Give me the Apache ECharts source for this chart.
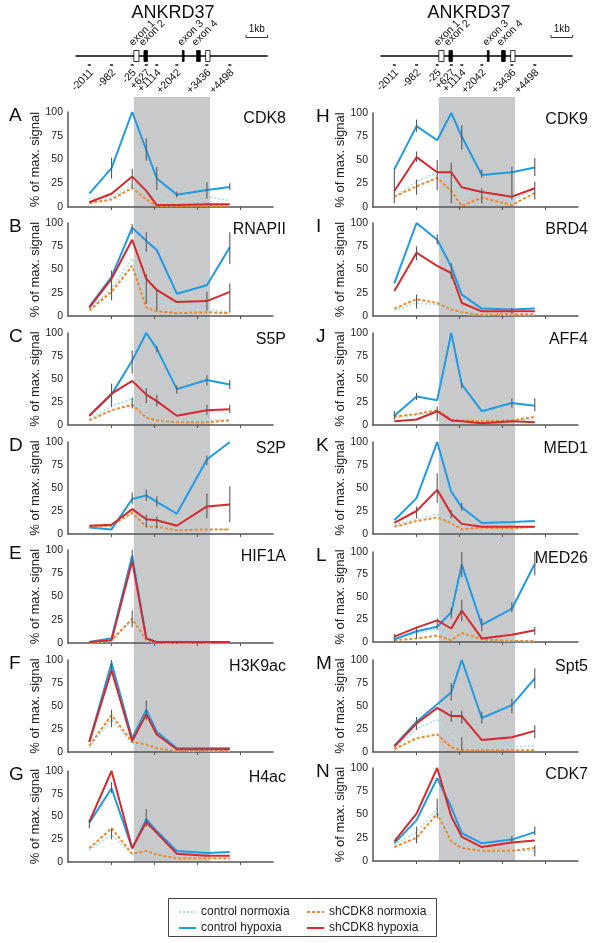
<!DOCTYPE html>
<html><head><meta charset="utf-8">
<script src="https://cdn.jsdelivr.net/npm/echarts@6/dist/echarts.min.js"></script>
<style>html,body{margin:0;padding:0;background:#fff}#c{width:604px;height:943px}</style>
</head><body><div id="c"></div><script>
// ---------------- data ----------------
const positions = [-2011, -982, -25, 627, 1114, 2042, 3436, 4498];
const positionLabels = ['-2011','-982','-25','+627','+1114','+2042','+3436','+4498'];
const geneName = 'ANKRD37';
const panelLetters = ['A','B','C','D','E','F','G','H','I','J','K','L','M','N'];
const panelTitles = ['CDK8','RNAPII','S5P','S2P','HIF1A','H3K9ac','H4ac','CDK9','BRD4','AFF4','MED1','MED26','Spt5','CDK7'];
const yTickValues = [0, 25, 50, 75, 100];
const legendNames = ['control normoxia','control hypoxia','shCDK8 normoxia','shCDK8 hypoxia'];

const controlNormoxia = [
  [9, 10, 23, 16, 12, 5, 11, 7],
  [8, 29, 62, 19, 17, 11, 7, 4],
  [7, 20, 29, 8, 6, 4, 5, 6],
  [8, 8, 25, 12, 10, 5, 5, 5],
  [0, 2, 24, 2, 0, 0, 0, 0],
  [5, 35, 9, 7, 4, 1, 1, 1],
  [13, 30, 8, 10, 7, 3, 3, 3],
  [11, 27, 37, 24, 15, 17, 8, 18],
  [6, 14, 12, 6, 2, 1, 1, 1],
  [7, 11, 15, 6, 5, 4, 5, 6],
  [10, 16, 21, 14, 7, 8, 8, 8],
  [3, 10, 14, 3, 9, 2, 1, 1],
  [4, 25, 35, 18, 11, 7, 5, 7],
  [17, 31, 56, 28, 16, 12, 11, 11]
];
const shCDK8Normoxia = [
  [4, 8, 20, 8, 1, 1, 1, 1],
  [6, 26, 54, 9, 5, 3, 4, 3],
  [5, 16, 22, 8, 5, 3, 3, 5],
  [8, 9, 23, 8, 8, 4, 5, 5],
  [0, 3, 26, 3, 0, 0, 0, 0],
  [7, 40, 11, 8, 4, 1, 1, 1],
  [15, 37, 9, 12, 8, 4, 4, 4],
  [11, 22, 31, 17, 1, 10, 2, 15],
  [8, 18, 14, 7, 4, 1, 2, 2],
  [9, 12, 16, 6, 5, 4, 5, 9],
  [8, 14, 18, 12, 5, 7, 6, 8],
  [2, 4, 7, 2, 10, 3, 1, 1],
  [3, 15, 19, 5, 2, 2, 2, 2],
  [15, 25, 51, 21, 14, 11, 11, 14]
];
const controlHypoxia = [
  [14, 41, 100, 60, 30, 13, 18, 21],
  [10, 42, 95, 81, 71, 24, 33, 74],
  [10, 33, 70, 100, 83, 39, 49, 44],
  [7, 5, 38, 42, 35, 22, 81, 100],
  [1, 5, 94, 5, 1, 1, 1, 1],
  [11, 97, 15, 46, 22, 4, 4, 4],
  [43, 81, 15, 47, 34, 12, 10, 11],
  [40, 86, 71, 100, 75, 34, 37, 42],
  [35, 100, 82, 53, 23, 8, 7, 8],
  [10, 31, 27, 100, 44, 15, 24, 21],
  [15, 39, 100, 46, 29, 12, 13, 14],
  [3, 12, 17, 33, 86, 19, 37, 87],
  [7, 33, 52, 65, 100, 37, 51, 80],
  [19, 44, 89, 58, 30, 19, 23, 31]
];
const shCDK8Hypoxia = [
  [5, 14, 32, 17, 2, 2, 3, 3],
  [9, 40, 82, 40, 28, 15, 16, 26],
  [10, 34, 48, 33, 26, 10, 16, 17],
  [9, 10, 27, 16, 15, 9, 30, 32],
  [1, 3, 88, 5, 1, 1, 1, 1],
  [11, 89, 12, 41, 19, 3, 3, 3],
  [44, 100, 15, 44, 32, 9, 7, 7],
  [17, 53, 37, 37, 21, 16, 11, 20],
  [27, 68, 54, 46, 14, 5, 5, 5],
  [4, 6, 15, 5, 4, 2, 4, 3],
  [12, 25, 48, 22, 11, 8, 8, 8],
  [6, 16, 24, 15, 35, 4, 8, 13],
  [6, 31, 48, 39, 39, 13, 16, 23],
  [21, 51, 100, 48, 26, 15, 20, 22]
];
// error bars per panel: [position index, low, high]
const errorBars = [
  [[1,30,52],[2,20,40],[3,49,72],[4,18,42],[5,10,16],[6,9,26],[7,18,25]],
  [[1,17,49],[2,88,99],[3,69,90],[3,13,45],[4,6,28],[6,6,26],[7,56,90],[7,4,35]],
  [[1,20,45],[2,56,81],[2,18,30],[3,24,40],[4,79,86],[4,20,33],[5,34,43],[6,43,54],[6,11,22],[7,39,49],[7,13,22]],
  [[2,32,45],[3,36,48],[4,30,41],[3,8,21],[4,6,19],[6,75,85],[6,17,44],[7,13,52]],
  [[2,85,100],[2,17,35]],
  [[1,89,100],[1,27,46],[3,35,56]],
  [[0,37,47],[1,76,88],[1,25,37],[3,39,58]],
  [[0,4,41],[1,80,93],[1,48,59],[1,13,29],[2,18,50],[3,4,47],[4,61,87],[5,31,40],[5,4,20],[6,8,43],[7,33,52],[7,8,27]],
  [[1,60,75],[1,8,23],[2,77,88],[3,40,57],[6,3,9]],
  [[0,6,15],[1,27,35],[2,4,20],[4,40,46],[6,19,29],[7,15,29]],
  [[1,17,30],[2,34,66],[3,17,26],[4,25,34]],
  [[0,0,9],[1,4,17],[2,14,26],[3,26,38],[4,72,100],[4,23,47],[5,12,26],[6,33,44],[7,74,100],[7,8,17]],
  [[1,24,38],[3,56,75],[3,33,45],[4,31,45],[4,2,16],[5,31,44],[6,42,58],[7,69,91],[7,15,29]],
  [[1,19,37],[2,46,67],[6,19,27],[7,28,37],[7,5,17]]
];
// gene model (bp relative to TSS)
const geneSpan = [-2650, 6250];
const geneBody = [50, 3580];
const exons = [[50, 290, 0], [520, 680, 1], [2300, 2380, 1], [2960, 3130, 1], [3380, 3580, 0]];
const exonLabels = ['exon 1', 'exon 2', 'exon 3', 'exon 4'];
const exonLabelPos = [50, 520, 2300, 2960];
const scaleBar = [5250, 6250];
const scaleLabel = '1kb';

// ---------------- layout / style ----------------
const FONT = "'Liberation Sans', Arial, sans-serif";
const X_MIN = -3000, X_MAX = 6500;
const colLeft = [68, 373];
const plotWidth = 205;
const colTops = [[112, 223, 333, 442, 550, 660, 771], [113, 223, 333, 442, 552, 660, 768]];
const colHeights = [[95, 93, 92, 92, 93, 92, 91], [94, 93, 92, 92, 90, 92, 93]];
const DECO_H = 862, BAND_TOP = 97;
const styles = {
  'control normoxia': {color: '#A3E1EC', width: 1.6, type: [2, 2], z: 2},
  'shCDK8 normoxia':  {color: '#F0872A', width: 2, type: [3, 2], z: 3},
  'control hypoxia':  {color: '#1E9BE6', width: 2, type: 'solid', z: 4},
  'shCDK8 hypoxia':   {color: '#D6282D', width: 2, type: 'solid', z: 5}
};
const seriesData = {
  'control normoxia': controlNormoxia,
  'shCDK8 normoxia': shCDK8Normoxia,
  'control hypoxia': controlHypoxia,
  'shCDK8 hypoxia': shCDK8Hypoxia
};
const drawOrder = ['control normoxia', 'shCDK8 normoxia', 'control hypoxia', 'shCDK8 hypoxia'];

const grid = [], xAxis = [], yAxis = [], series = [], graphic = [];

// decoration grids (gene model + shaded gene body)
for (let c = 0; c < 2; c++) {
  grid.push({left: colLeft[c], top: 0, width: plotWidth, height: DECO_H});
  xAxis.push({gridIndex: c, type: 'value', min: X_MIN, max: X_MAX, show: false});
  yAxis.push({gridIndex: c, type: 'value', min: 0, max: DECO_H, inverse: true, show: false});
  series.push({
    type: 'custom', xAxisIndex: c, yAxisIndex: c, z: 0, silent: true, clip: false,
    data: [[geneBody[0], geneBody[1]]],
    renderItem: (params, api) => {
      const p0 = api.coord([api.value(0), BAND_TOP]);
      const p1 = api.coord([api.value(1), DECO_H]);
      return {type: 'rect', shape: {x: p0[0], y: p0[1], width: p1[0] - p0[0], height: p1[1] - p0[1]},
              style: {fill: '#C8C9CB'}};
    }
  });
  series.push({
    type: 'custom', xAxisIndex: c, yAxisIndex: c, z: 6, silent: true, clip: false,
    data: [[0, 0]],
    renderItem: (params, api) => {
      const X = v => api.coord([v, 0])[0];
      const ch = [];
      ch.push({type: 'line', shape: {x1: X(geneSpan[0]), y1: 56, x2: X(geneSpan[1]), y2: 56},
               style: {stroke: '#000', lineWidth: 1.3}});
      exons.forEach(e => ch.push({type: 'rect',
        shape: {x: X(e[0]), y: 50.5, width: X(e[1]) - X(e[0]), height: 11},
        style: {fill: e[2] ? '#000' : '#fff', stroke: '#000', lineWidth: 0.8}}));
      exonLabelPos.forEach((p, i) => ch.push({type: 'text', x: X(p) + 1, y: 48, rotation: Math.PI / 4,
        style: {text: exonLabels[i], align: 'left', verticalAlign: 'bottom', fontSize: 10.5, fill: '#111', fontFamily: FONT}}));
      positions.forEach((p, i) => {
        ch.push({type: 'line', shape: {x1: X(p) - 1.5, y1: 65, x2: X(p) + 1.5, y2: 65},
                 style: {stroke: '#000', lineWidth: 1.4}});
        ch.push({type: 'text', x: X(p) + 2.5, y: 71, rotation: Math.PI / 4,
          style: {text: positionLabels[i], align: 'right', verticalAlign: 'middle', fontSize: 10.5, fill: '#111', fontFamily: FONT}});
      });
      const s0 = X(scaleBar[0]), s1 = X(scaleBar[1]);
      ch.push({type: 'polyline', shape: {points: [[s0, 35], [s0, 37.5], [s1, 37.5], [s1, 35]]},
               style: {stroke: '#333', lineWidth: 1, fill: null}});
      ch.push({type: 'text', x: (s0 + s1) / 2, y: 34, style: {text: scaleLabel, align: 'center', verticalAlign: 'bottom', fontSize: 10, fill: '#111', fontFamily: FONT}});
      return {type: 'group', children: ch};
    }
  });
  graphic.push({type: 'text', x: colLeft[c] + (c === 0 ? 105 : 96), y: 13,
    style: {text: geneName, align: 'center', verticalAlign: 'middle', fontSize: 18, fill: '#111', fontFamily: FONT}});
}

// panels
for (let i = 0; i < 14; i++) {
  const c = i < 7 ? 0 : 1, r = i % 7;
  const gi = grid.length;
  const top = colTops[c][r], h = colHeights[c][r];
  grid.push({left: colLeft[c], top: top, width: plotWidth, height: h});
  xAxis.push({gridIndex: gi, type: 'value', min: X_MIN, max: X_MAX, z: 1,
    axisLine: {show: true, onZero: false, lineStyle: {color: '#555', width: 1.5}},
    axisTick: {show: true, length: 3, customValues: [-1000, 1000, 3000, 5000], lineStyle: {color: '#555', width: 1}},
    axisLabel: {show: false}, splitLine: {show: false}});
  yAxis.push({gridIndex: gi, type: 'value', min: 0, max: 100, interval: 25, z: 1,
    axisLine: {show: true, onZero: false, lineStyle: {color: '#555', width: 1.5}},
    axisTick: {show: false},
    axisLabel: {fontSize: 10.5, color: '#222', margin: 5, fontFamily: FONT},
    splitLine: {show: false},
    name: '% of max. signal', nameLocation: 'middle', nameGap: 21, nameRotate: 90,
    nameTextStyle: {fontSize: 13, color: '#222', fontFamily: FONT}});
  drawOrder.forEach(name => {
    const st = styles[name];
    series.push({type: 'line', name: name, xAxisIndex: gi, yAxisIndex: gi, z: st.z,
      data: positions.map((p, k) => [p, seriesData[name][i][k]]),
      symbol: 'none', silent: true, animation: false,
      itemStyle: {color: st.color},
      lineStyle: {color: st.color, width: st.width, type: st.type}});
  });
  series.push({type: 'custom', xAxisIndex: gi, yAxisIndex: gi, z: 7, silent: true, animation: false,
    data: errorBars[i].map(e => [positions[e[0]], e[1], e[2]]),
    encode: {x: 0, y: [1, 2]},
    renderItem: (params, api) => {
      const a = api.coord([api.value(0), api.value(1)]);
      const b = api.coord([api.value(0), api.value(2)]);
      return {type: 'line', shape: {x1: a[0], y1: a[1], x2: b[0], y2: b[1]},
              style: {stroke: '#5a5a5a', lineWidth: 1.1}};
    }});
  graphic.push({type: 'text', x: c === 0 ? 9 : 316, y: top + 4,
    style: {text: panelLetters[i], align: 'left', verticalAlign: 'middle', fontSize: 19, fill: '#111', fontFamily: FONT}});
  graphic.push({type: 'text', x: c === 0 ? 286 : 588, y: top + 6.5,
    style: {text: panelTitles[i], align: 'right', verticalAlign: 'middle', fontSize: 16, fill: '#111', fontFamily: FONT}});
}

// legend border
graphic.push({type: 'rect', shape: {x: 168.5, y: 898.5, width: 268, height: 38}, style: {fill: null, stroke: '#444', lineWidth: 1}});

const legendCommon = {orient: 'vertical', itemGap: 4, itemWidth: 17, itemHeight: 10,
  itemStyle: {opacity: 0},
  textStyle: {fontSize: 12, color: '#222', fontFamily: FONT}, selectedMode: false};

const chart = echarts.init(document.getElementById('c'), null, {renderer: 'canvas'});
chart.setOption({
  backgroundColor: '#fff',
  animation: false,
  textStyle: {fontFamily: FONT},
  grid, xAxis, yAxis, series, graphic,
  legend: [
    Object.assign({data: [legendNames[0], legendNames[1]], left: 173, top: 901}, legendCommon),
    Object.assign({data: [legendNames[2], legendNames[3]], left: 301, top: 901}, legendCommon)
  ]
});
</script></body></html>
